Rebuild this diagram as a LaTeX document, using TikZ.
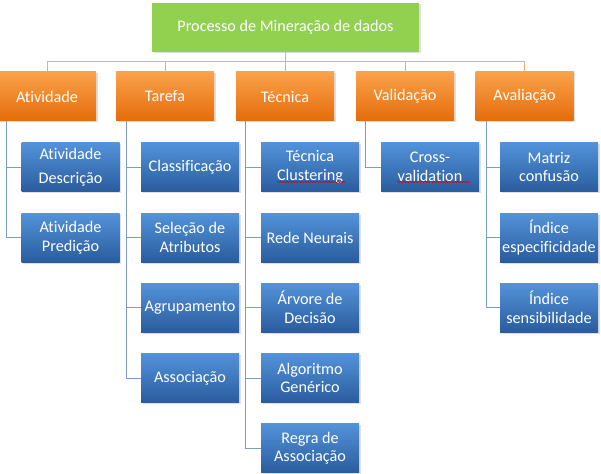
\documentclass[tikz,border=0pt]{standalone}
\usepackage{fontspec}
\setmainfont[Ligatures=NoCommon]{Carlito}
\usetikzlibrary{shadows,decorations.pathmorphing,calc}
\definecolor{gfill}{HTML}{92D050}
\definecolor{otop}{HTML}{FBA24A}
\definecolor{obot}{HTML}{E46C0A}
\definecolor{btop}{HTML}{5393DA}
\definecolor{bbot}{HTML}{2A5C9E}
\definecolor{oline}{HTML}{F6A874}
\definecolor{bline}{HTML}{7C9CC8}
\tikzset{
  boxbase/.style={rectangle, minimum width=98pt, minimum height=49pt, inner sep=1pt,
    text=white, align=center, font=\fontsize{16.2}{18.5}\selectfont,
    drop shadow={opacity=0.25, shadow xshift=1.5pt, shadow yshift=-1.5pt}},
  greenbox/.style={boxbase, fill=gfill, minimum width=267pt},
  orangebox/.style={boxbase, top color=otop, bottom color=obot},
  bluebox/.style={boxbase, top color=btop, bottom color=bbot},
  oconn/.style={draw=oline, line width=0.8pt},
  bconn/.style={draw=bline, line width=0.8pt},
  spell/.style={draw=red!85!black, line width=0.5pt, decorate,
    decoration={snake, amplitude=0.8pt, segment length=3pt}}
}
\begin{document}
\begin{tikzpicture}[x=1pt,y=-1pt]
\useasboundingbox (0,0) rectangle (601,473);
\fill[white] (0,0) rectangle (601,473);
% top
\node[greenbox] (g) at (285.5,27.5) {Processo de Mineração de dados};
% orange row
\node[orangebox] (o1) at (47,96.5) {Atividade};
\node[orangebox] (o2) at (165,96.5) {Tarefa};
\node[orangebox] (o3) at (285,96.5) {Técnica};
\node[orangebox] (o4) at (405,96.5) {Validação};
\node[orangebox] (o5) at (524.5,96.5) {Avaliação};
% blue: Atividade
\node[bluebox] (b11) at (70.5,167) {Atividade\\[6pt]Descrição};
\node[bluebox] (b12) at (70.5,237.5) {Atividade\\Predição};
% Tarefa
\node[bluebox] (b21) at (190,167) {Classificação};
\node[bluebox] (b22) at (190,237.5) {Seleção de\\Atributos};
\node[bluebox] (b23) at (190,307.5) {Agrupamento};
\node[bluebox] (b24) at (190,378) {Associação};
% Técnica
\node[bluebox] (b31) at (310,167) {Técnica\\Clustering};
\node[bluebox] (b32) at (310,237.5) {Rede Neurais};
\node[bluebox] (b33) at (310,307.5) {Árvore de\\Decisão};
\node[bluebox] (b34) at (310,378) {Algoritmo\\Genérico};
\node[bluebox] (b35) at (310,448) {Regra de\\Associação};
% Validação
\node[bluebox] (b41) at (430,167) {Cross-\\validation};
% Avaliação
\node[bluebox] (b51) at (549,167) {Matriz\\confusão};
\node[bluebox] (b52) at (549,237.5) {Índice\\especificidade};
\node[bluebox] (b53) at (549,307.5) {Índice\\sensibilidade};
% orange connectors
\coordinate (hb) at (0,61);
\draw[oconn] (o1.north) |- (hb -| o5.north) -- (o5.north);
\draw[oconn] (g.south) -- (g.south |- hb);
\draw[oconn] (o2.north) -- (o2.north |- hb);
\draw[oconn] (o3.north) -- (o3.north |- hb);
\draw[oconn] (o4.north) -- (o4.north |- hb);
% blue connectors
\draw[bconn] ([xshift=9pt]o1.south west) |- (b12.west);
\draw[bconn] ([xshift=9pt]o1.south west |- b11.west) -- (b11.west);
\draw[bconn] ([xshift=11pt]o2.south west) |- (b24.west);
\draw[bconn] ([xshift=11pt]o2.south west |- b21.west) -- (b21.west);
\draw[bconn] ([xshift=11pt]o2.south west |- b22.west) -- (b22.west);
\draw[bconn] ([xshift=11pt]o2.south west |- b23.west) -- (b23.west);
\draw[bconn] ([xshift=10pt]o3.south west) |- (b35.west);
\draw[bconn] ([xshift=10pt]o3.south west |- b31.west) -- (b31.west);
\draw[bconn] ([xshift=10pt]o3.south west |- b32.west) -- (b32.west);
\draw[bconn] ([xshift=10pt]o3.south west |- b33.west) -- (b33.west);
\draw[bconn] ([xshift=10pt]o3.south west |- b34.west) -- (b34.west);
\draw[bconn] ([xshift=10pt]o4.south west) |- (b41.west);
\draw[bconn] ([xshift=11pt]o5.south west) |- (b53.west);
\draw[bconn] ([xshift=11pt]o5.south west |- b51.west) -- (b51.west);
\draw[bconn] ([xshift=11pt]o5.south west |- b52.west) -- (b52.west);
% spell-check underlines
\draw[spell] ($(b31)+(-33,15)$) -- ($(b31)+(35,15)$);
\draw[spell] ($(b41)+(-33,15)$) -- ($(b41)+(40,15)$);
\end{tikzpicture}
\end{document}
